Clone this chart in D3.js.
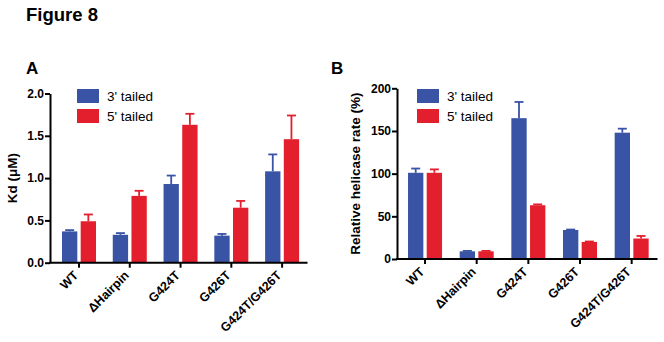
<!DOCTYPE html>
<html>
<head>
<meta charset="utf-8">
<script src="https://cdn.jsdelivr.net/npm/d3@7"></script>
<style>
  body { margin: 0; background: #fff; }
  svg { display: block; font-family: "Liberation Sans", Arial, sans-serif; }
  .axis path, .axis line { stroke: #000; stroke-width: 2px; fill: none; }
  .axis text { font-size: 12px; font-weight: bold; fill: #000; }
  .legend text { font-size: 13.5px; fill: #000; }
</style>
</head>
<body>
<div id="chart"></div>
<script>
var categories = ["WT", "\u0394Hairpin", "G424T", "G426T", "G424T/G426T"];
var series = ["3' tailed", "5' tailed"];
var colors = ["#3953a5", "#e41f2d"];

// panel A: Kd (uM)
var kd3 = [0.37, 0.33, 0.93, 0.32, 1.08];
var kd3Err = [0.015, 0.02, 0.10, 0.02, 0.20];
var kd5 = [0.49, 0.79, 1.63, 0.65, 1.46];
var kd5Err = [0.08, 0.06, 0.13, 0.08, 0.28];
var kdTicks = [0, 0.5, 1.0, 1.5, 2.0];

// panel B: relative helicase rate (%)
var rate3 = [101, 9, 165, 34, 148];
var rate3Err = [5, 0.5, 19, 0.5, 4.7];
var rate5 = [101, 9, 63, 20, 24];
var rate5Err = [4, 0.5, 1, 0.5, 3];
var rateTicks = [0, 50, 100, 150, 200];

var svg = d3.select("#chart").append("svg")
    .attr("width", 664)
    .attr("height", 342);

svg.append("text")
    .attr("x", 26).attr("y", 21)
    .style("font-size", "18.5px").style("font-weight", "bold")
    .text("Figure 8");

function drawPanel(p) {
    var g = svg.append("g");

    g.append("text")
        .attr("x", p.letterX).attr("y", 74)
        .style("font-size", "17px").style("font-weight", "bold")
        .text(p.letter);

    var x = d3.scaleBand()
        .domain(categories)
        .range([p.x0, p.x1]);

    var xs = d3.scaleBand()
        .domain(series)
        .range([-17, 17])
        .paddingInner(0.18);

    var y = d3.scaleLinear()
        .domain([p.ticks[0], p.ticks[p.ticks.length - 1]])
        .range([p.yBottom, p.yTop]);

    var rows = [];
    categories.forEach(function (c, i) {
        series.forEach(function (s, j) {
            rows.push({ cat: c, ser: s, idx: j, v: p.vals[j][i], e: p.errs[j][i] });
        });
    });

    var cx = function (d) { return x(d.cat) + x.bandwidth() / 2 + xs(d.ser); };

    // error bars (upward only)
    g.selectAll(".err").data(rows).enter().append("line")
        .attr("x1", function (d) { return cx(d) + xs.bandwidth() / 2; })
        .attr("x2", function (d) { return cx(d) + xs.bandwidth() / 2; })
        .attr("y1", function (d) { return y(d.v); })
        .attr("y2", function (d) { return y(d.v + d.e); })
        .attr("stroke", function (d) { return colors[d.idx]; })
        .attr("stroke-width", 1.8);

    g.selectAll(".cap").data(rows).enter().append("line")
        .attr("x1", function (d) { return cx(d) + xs.bandwidth() / 2 - 4.5; })
        .attr("x2", function (d) { return cx(d) + xs.bandwidth() / 2 + 4.5; })
        .attr("y1", function (d) { return y(d.v + d.e); })
        .attr("y2", function (d) { return y(d.v + d.e); })
        .attr("stroke", function (d) { return colors[d.idx]; })
        .attr("stroke-width", 1.8);

    g.selectAll("rect.bar").data(rows).enter().append("rect")
        .attr("class", "bar")
        .attr("x", cx)
        .attr("y", function (d) { return y(d.v); })
        .attr("width", xs.bandwidth())
        .attr("height", function (d) { return y(0) - y(d.v); })
        .attr("fill", function (d) { return colors[d.idx]; });

    // axes
    var yAxis = d3.axisLeft(y)
        .tickValues(p.ticks)
        .tickFormat(p.fmt)
        .tickSize(5)
        .tickSizeOuter(0)
        .tickPadding(1);
    g.append("g")
        .attr("class", "axis")
        .attr("transform", "translate(" + p.yAxisX + ",0)")
        .call(yAxis);

    var xAxis = d3.axisBottom(x)
        .tickSize(5)
        .tickSizeOuter(0);
    var xg = g.append("g")
        .attr("class", "axis")
        .attr("transform", "translate(0," + p.yBottom + ")")
        .call(xAxis);
    xg.select(".domain").attr("d", "M" + (p.yAxisX - 1) + ",0H" + p.x1);
    xg.selectAll(".tick text")
        .attr("text-anchor", "end")
        .attr("dy", null)
        .attr("y", null)
        .attr("transform", "translate(0,13.5) rotate(-45)")
        .style("font-size", "12.5px");

    // y-axis title
    g.append("text")
        .attr("transform", "translate(" + p.titleX + "," + ((p.yTop + p.yBottom) / 2) + ") rotate(-90)")
        .attr("text-anchor", "middle")
        .style("font-size", "13.5px").style("font-weight", "bold")
        .text(p.title);

    // legend
    var lg = g.append("g").attr("class", "legend")
        .attr("transform", "translate(" + p.legendX + ",89)");
    series.forEach(function (s, j) {
        lg.append("rect")
            .attr("x", 0).attr("y", j * 20)
            .attr("width", 22).attr("height", 14)
            .attr("fill", colors[j]);
        lg.append("text")
            .attr("x", 30).attr("y", j * 20 + 12)
            .text(s);
    });
}

drawPanel({
    letter: "A", letterX: 26,
    x0: 53.6, x1: 307.5, yAxisX: 50,
    yBottom: 262.7, yTop: 93.5,
    ticks: kdTicks, fmt: d3.format(".1f"),
    vals: [kd3, kd5], errs: [kd3Err, kd5Err],
    title: "Kd (\u03bcM)", titleX: 17,
    legendX: 77
});

drawPanel({
    letter: "B", letterX: 331,
    x0: 399.2, x1: 657.5, yAxisX: 397,
    yBottom: 259, yTop: 88.3,
    ticks: rateTicks, fmt: d3.format("d"),
    vals: [rate3, rate5], errs: [rate3Err, rate5Err],
    title: "Relative helicase rate (%)", titleX: 360,
    legendX: 417
});
</script>
</body>
</html>
